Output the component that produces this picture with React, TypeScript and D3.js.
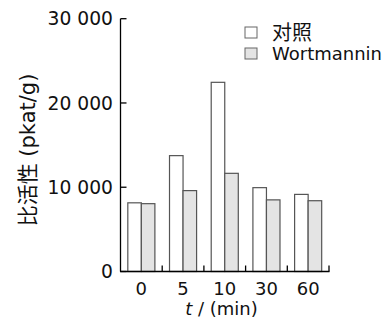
import React from 'react';
import * as d3 from 'd3';

const times = ['0', '5', '10', '30', '60'];
const control = [8150, 13750, 22450, 9950, 9150];
const wortmannin = [8050, 9600, 11650, 8500, 8400];
const yTicks = [0, 10000, 20000, 30000];
const seriesNames = ['对照', 'Wortmannin'];
const fills = ['#ffffff', '#e4e4e4'];

const width = 391;
const height = 322;
const font = '"DejaVu Sans", "Noto Sans CJK SC", sans-serif';

const x = d3.scaleBand<string>().domain(times).range([120.5, 329]);
const inner = d3.scaleBand<number>().domain([0, 1]).range([0, x.bandwidth()]).paddingOuter(0.54);
const y = d3.scaleLinear().domain([0, 30000]).range([271.5, 18.7]);

const fmt = (v: number) => d3.format(',')(v).replace(/,/g, ' ');

export default function App() {
  const series = [control, wortmannin];
  return (
    <svg width={width} height={height} style={{ position: 'absolute', left: 0, top: 0 }} fontFamily={font}>
      {/* bars */}
      {times.map((t, i) => (
        <g key={t} transform={`translate(${x(t)},0)`}>
          {series.map((s, k) => (
            <rect key={k} x={inner(k)} y={y(s[i])} width={inner.bandwidth()} height={y(0) - y(s[i])}
              fill={fills[k]} stroke="#555" strokeWidth={1.2} />
          ))}
        </g>
      ))}

      {/* y axis */}
      <line x1={120.5} x2={120.5} y1={y(30000)} y2={y(0)} stroke="#000" strokeWidth={1.3} />
      {yTicks.map(v => (
        <g key={v}>
          <line x1={120.5} x2={126.5} y1={y(v)} y2={y(v)} stroke="#000" strokeWidth={1.3} />
          <text x={113} y={y(v)} dy="0.36em" textAnchor="end" fontSize={18.7} fill="#111">{fmt(v)}</text>
        </g>
      ))}

      {/* x axis */}
      <line x1={120} x2={329.5} y1={y(0)} y2={y(0)} stroke="#000" strokeWidth={1.3} />
      {times.map(t => (
        <g key={t}>
          <line x1={(x(t) as number) + x.bandwidth()} x2={(x(t) as number) + x.bandwidth()} y1={y(0)} y2={y(0) - 6}
            stroke="#000" strokeWidth={1.3} />
          <text x={(x(t) as number) + x.bandwidth() / 2} y={294.5} textAnchor="middle" fontSize={18} fill="#111">{t}</text>
        </g>
      ))}
      <text x={221.5} y={315} textAnchor="middle" fontSize={18} fill="#111">
        <tspan fontStyle="italic">t</tspan> / (min)
      </text>

      {/* y label */}
      <text transform={`translate(35,150) rotate(-90)`} textAnchor="middle" fontSize={21} fill="#111">
        比活性 (pkat/g)
      </text>

      {/* legend */}
      {seriesNames.map((n, k) => (
        <g key={n} transform={`translate(245,${27 + k * 21})`}>
          <rect x={0} y={0} width={12} height={11} fill={fills[k]} stroke="#666" strokeWidth={1} />
          <text x={27} y={5.5} dy="0.36em" fontSize={k === 0 ? 20 : 18} fill="#111">{n}</text>
        </g>
      ))}
    </svg>
  );
}
